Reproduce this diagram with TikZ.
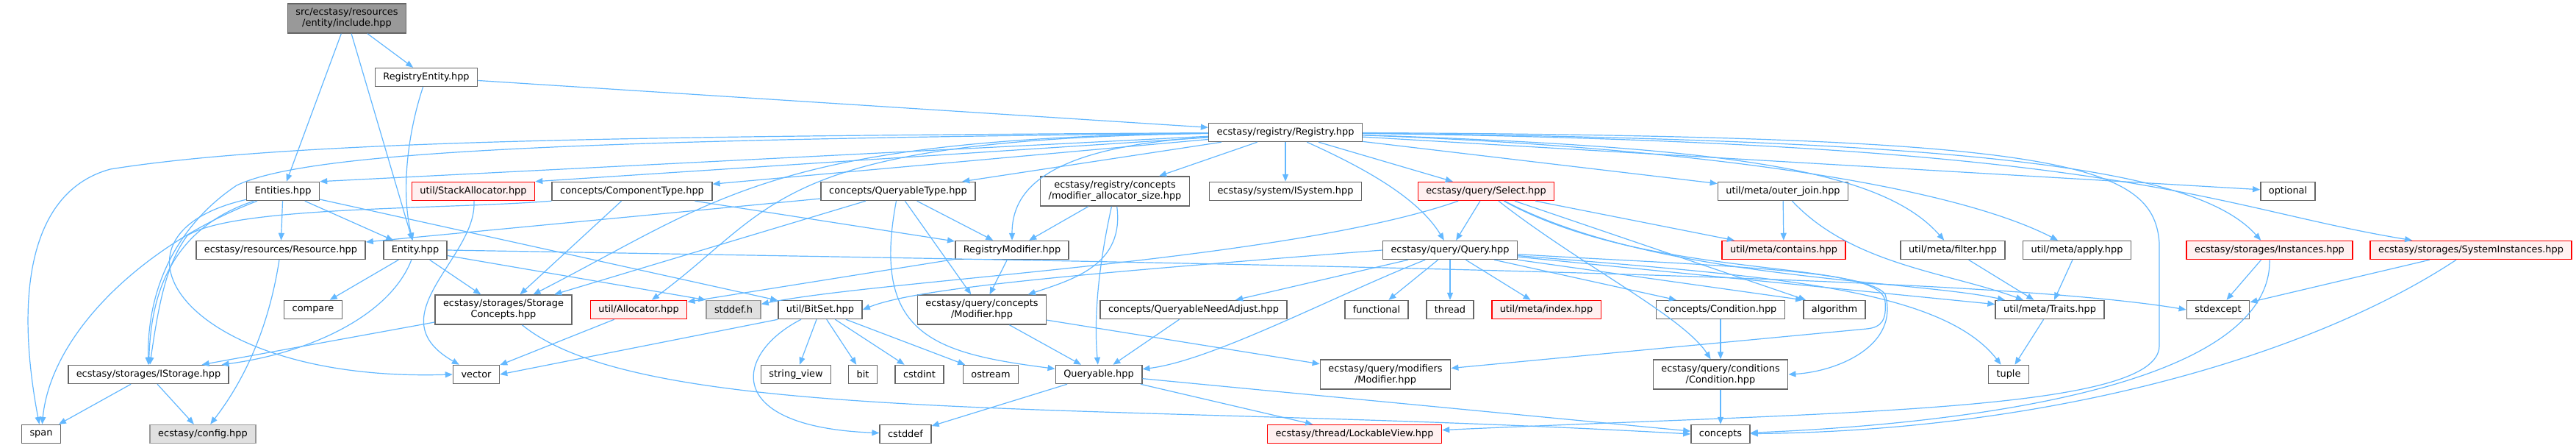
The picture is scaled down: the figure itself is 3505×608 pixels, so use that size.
\documentclass[tikz,border=0pt]{standalone}
\usepackage{fontspec}
\setmainfont{DejaVu Sans}
\usepackage{tikz}
\usetikzlibrary{arrows.meta}
\definecolor{edgeblue}{HTML}{63B8FF}
\definecolor{nodeframe}{HTML}{666666}
\definecolor{rootfill}{HTML}{999999}
\definecolor{extfill}{HTML}{E0E0E0}
\definecolor{extframe}{HTML}{999999}
\definecolor{redfill}{HTML}{FFF0F0}

\begin{document}
\begin{tikzpicture}[
  x=1pt,y=-1pt,
  file/.style={draw=nodeframe, fill=white, line width=1.5pt, inner xsep=11pt, inner ysep=3pt, minimum height=25pt, font=\fontsize{12.9}{15}\selectfont},
  two/.style={file, align=center, minimum height=40pt},
  rootfile/.style={two, fill=rootfill},
  trunc/.style={file, draw=red, fill=redfill},
  ext/.style={file, draw=extframe, fill=extfill},
  arr/.style={-{Triangle[length=10pt,width=8pt]}, draw=edgeblue, line width=1.2pt}
]
\path[use as bounding box, fill=white] (0,0) rectangle (3505,608);

\node[rootfile] (root) at (472,25) {src/ecstasy/resources\\/entity/include.hpp};
\node[file] (regentity) at (580,105) {RegistryEntity.hpp};
\node[file] (registry) at (1749,180) {ecstasy/registry/Registry.hpp};

\node[file] (entities) at (385,260) {Entities.hpp};
\node[trunc] (stackalloc) at (644,260) {util/StackAllocator.hpp};
\node[file] (comptype) at (860,260) {concepts/ComponentType.hpp};
\node[file] (querytype) at (1222,260) {concepts/QueryableType.hpp};
\node[two] (modalloc) at (1517,260) {ecstasy/registry/concepts\\/modifier\_allocator\_size.hpp};
\node[file] (isystem) at (1749,260) {ecstasy/system/ISystem.hpp};
\node[trunc] (select) at (2022,260) {ecstasy/query/Select.hpp};
\node[file] (outerjoin) at (2426,260) {util/meta/outer\_join.hpp};
\node[file] (optional) at (3113,260) {optional};

\node[file] (resource) at (382,340) {ecstasy/resources/Resource.hpp};
\node[file] (entity) at (565,340) {Entity.hpp};
\node[file] (regmod) at (1377,340) {RegistryModifier.hpp};
\node[file] (query) at (1973,340) {ecstasy/query/Query.hpp};
\node[trunc] (contains) at (2427,340) {util/meta/contains.hpp};
\node[file] (filter) at (2657,340) {util/meta/filter.hpp};
\node[file] (apply) at (2826,340) {util/meta/apply.hpp};
\node[trunc] (instances) at (3088,340) {ecstasy/storages/Instances.hpp};
\node[trunc] (sysinst) at (3362,340) {ecstasy/storages/SystemInstances.hpp};

\node[file] (compare) at (426,421) {compare};
\node[two] (storconc) at (685,421) {ecstasy/storages/Storage\\Concepts.hpp};
\node[trunc] (allocator) at (869,421) {util/Allocator.hpp};
\node[ext] (stddefh) at (998,421) {stddef.h};
\node[file] (bitset) at (1116,421) {util/BitSet.hpp};
\node[two] (qmodifier) at (1336,421) {ecstasy/query/concepts\\/Modifier.hpp};
\node[file] (needadjust) at (1624,421) {concepts/QueryableNeedAdjust.hpp};
\node[file] (functional) at (1873,421) {functional};
\node[file] (thread) at (1973,421) {thread};
\node[trunc] (index) at (2104,421) {util/meta/index.hpp};
\node[file] (condconc) at (2341,421) {concepts/Condition.hpp};
\node[file] (algorithm) at (2496,421) {algorithm};
\node[file] (traits) at (2789,421) {util/meta/Traits.hpp};
\node[file] (stdexcept) at (3018,421) {stdexcept};

\node[file] (istorage) at (202,509) {ecstasy/storages/IStorage.hpp};
\node[file] (vector) at (648,509) {vector};
\node[file] (stringview) at (1083,509) {string\_view};
\node[file] (bit) at (1174,509) {bit};
\node[file] (cstdint) at (1251,509) {cstdint};
\node[file] (ostream) at (1348,509) {ostream};
\node[file] (queryable) at (1495,509) {Queryable.hpp};
\node[two] (modmodifier) at (1885,509) {ecstasy/query/modifiers\\/Modifier.hpp};
\node[two] (condition) at (2341,509) {ecstasy/query/conditions\\/Condition.hpp};
\node[file] (tuple) at (2733,509) {tuple};

\node[file] (span) at (56,590) {span};
\node[ext] (config) at (276,590) {ecstasy/config.hpp};
\node[file] (cstddef) at (1232,590) {cstddef};
\node[trunc] (lockable) at (1843,590) {ecstasy/thread/LockableView.hpp};
\node[file] (concepts) at (2341,590) {concepts};

\draw[arr] (root) -- (entities);
\draw[arr] (root) -- (entity);
\draw[arr] (root) -- (regentity);
\draw[arr] (regentity) -- (registry);
\draw[arr] (regentity) .. controls (555,180) and (545,260) .. (entity);

\draw[arr] (registry) -- (entities.north east);
\draw[arr] (registry) -- (stackalloc.north east);
\draw[arr] (registry) -- (comptype);
\draw[arr] (registry) -- (querytype);
\draw[arr] (registry) -- (modalloc);
\draw[arr] (registry) -- (isystem);
\draw[arr] (registry) -- (select);
\draw[arr] (registry) -- (outerjoin);
\draw[arr] (registry) -- (optional);
\draw[arr] (registry) .. controls (1420,200) and (1377,260) .. (regmod);
\draw[arr] (registry) .. controls (1860,230) and (1930,270) .. (query);
\draw[arr] (registry) .. controls (2350,200) and (2560,230) .. (filter);
\draw[arr] (registry) .. controls (2300,200) and (2650,250) .. (apply);
\draw[arr] (registry) .. controls (2700,190) and (2990,230) .. (instances);
\draw[arr] (registry) .. controls (2900,195) and (3000,280) .. (sysinst);
\draw[arr] (registry) .. controls (1050,190) and (1060,280) .. (allocator);
\draw[arr] (registry) .. controls (1050,188) and (980,270) .. (storconc);
\draw[arr] (registry) .. controls (800,190) and (420,205) .. (322,252) .. controls (250,300) and (200,380) .. (istorage);
\draw[arr] (registry) .. controls (900,185) and (400,190) .. (150,230) .. controls (40,260) and (20,400) .. (span);
\draw[arr] (registry) .. controls (2800,185) and (2930,220) .. (2938,330) -- (2938,470) .. controls (2938,560) and (2500,560) .. (lockable);

\draw[arr] (entities) -- (resource);
\draw[arr] (entities) -- (entity);
\draw[arr] (entities) -- (bitset);
\draw[arr] (entities) .. controls (200,330) and (70,450) .. (span);
\draw[arr] (entities) .. controls (220,315) and (205,420) .. (istorage);
\draw[arr] (entities) .. controls (120,320) and (250,520) .. (vector.west);

\draw[arr] (stackalloc) .. controls (650,350) and (510,430) .. (vector);
\draw[arr] (comptype) -- (regmod);
\draw[arr] (comptype) -- (storconc);
\draw[arr] (comptype.south west) .. controls (600,285) and (320,280) .. (255,320) .. controls (225,360) and (215,420) .. (istorage);

\draw[arr] (querytype) -- (resource);
\draw[arr] (querytype) -- (storconc);
\draw[arr] (querytype) -- (regmod);
\draw[arr] (querytype) -- (qmodifier);
\draw[arr] (querytype) .. controls (1185,455) and (1270,480) .. (queryable);

\draw[arr] (modalloc) -- (regmod);
\draw[arr] (modalloc) .. controls (1530,360) and (1460,380) .. (qmodifier);
\draw[arr] (modalloc) .. controls (1495,360) and (1488,430) .. (queryable);

\draw[arr] (select) -- (query);
\draw[arr] (select) -- (contains);
\draw[arr] (select) -- (algorithm);
\draw[arr] (select) .. controls (1750,355) and (1200,380) .. (stddefh);
\draw[arr] (select) .. controls (2250,380) and (2600,380) .. (traits);
\draw[arr] (select) .. controls (2150,360) and (2290,430) .. (condition);
\draw[arr] (select) .. controls (2250,385) and (2560,350) .. (2565,410) .. controls (2567,435) and (2560,445) .. (2540,447) -- (modmodifier);

\draw[arr] (outerjoin) -- (contains);
\draw[arr] (outerjoin) .. controls (2520,360) and (2650,370) .. (traits);

\draw[arr] (resource) .. controls (365,450) and (330,520) .. (config);
\draw[arr] (entity) -- (compare);
\draw[arr] (entity) -- (storconc);
\draw[arr] (entity) -- (stddefh.north west);
\draw[arr] (entity) .. controls (530,430) and (420,480) .. (istorage);
\draw[arr] (entity.east) .. controls (1800,360) and (2700,375) .. (stdexcept.west);

\draw[arr] (regmod) -- (qmodifier);
\draw[arr] (regmod) -- (allocator);

\draw[arr] (query) -- (functional);
\draw[arr] (query) -- (thread);
\draw[arr] (query) -- (index);
\draw[arr] (query) -- (condconc);
\draw[arr] (query.south east) -- (algorithm.north west);
\draw[arr] (query) -- (traits);
\draw[arr] (query) -- (needadjust);
\draw[arr] (query) .. controls (1820,400) and (1650,490) .. (queryable);
\draw[arr] (query.west) .. controls (1500,370) and (1250,390) .. (bitset.east);
\draw[arr] (query) .. controls (2400,375) and (2640,390) .. (tuple);
\draw[arr] (query) .. controls (2300,360) and (2540,365) .. (2565,400) .. controls (2585,470) and (2500,505) .. (condition.east);

\draw[arr] (filter) -- (traits);
\draw[arr] (apply) -- (traits);
\draw[arr] (instances) -- (stdexcept);
\draw[arr] (sysinst) -- (stdexcept);
\draw[arr] (instances) .. controls (3090,520) and (2700,575) .. (concepts);
\draw[arr] (sysinst) .. controls (3150,480) and (2800,585) .. (concepts);

\draw[arr] (storconc) -- (istorage);
\draw[arr] (storconc) .. controls (880,580) and (1500,545) .. (concepts.west);
\draw[arr] (allocator) -- (vector);
\draw[arr] (bitset.south west) -- (vector.east);
\draw[arr] (bitset) -- (stringview);
\draw[arr] (bitset) -- (bit);
\draw[arr] (bitset) -- (cstdint);
\draw[arr] (bitset) -- (ostream);
\draw[arr] (bitset) .. controls (1000,480) and (980,580) .. (cstddef);
\draw[arr] (qmodifier) -- (queryable);
\draw[arr] (qmodifier) -- (modmodifier);
\draw[arr] (needadjust) -- (queryable);
\draw[arr] (condconc) -- (condition);
\draw[arr] (traits) -- (tuple);

\draw[arr] (istorage) -- (span);
\draw[arr] (istorage) -- (config);
\draw[arr] (queryable) -- (cstddef);
\draw[arr] (queryable) -- (lockable);
\draw[arr] (queryable) -- (concepts);
\draw[arr] (condition) -- (concepts);
\end{tikzpicture}
\end{document}
